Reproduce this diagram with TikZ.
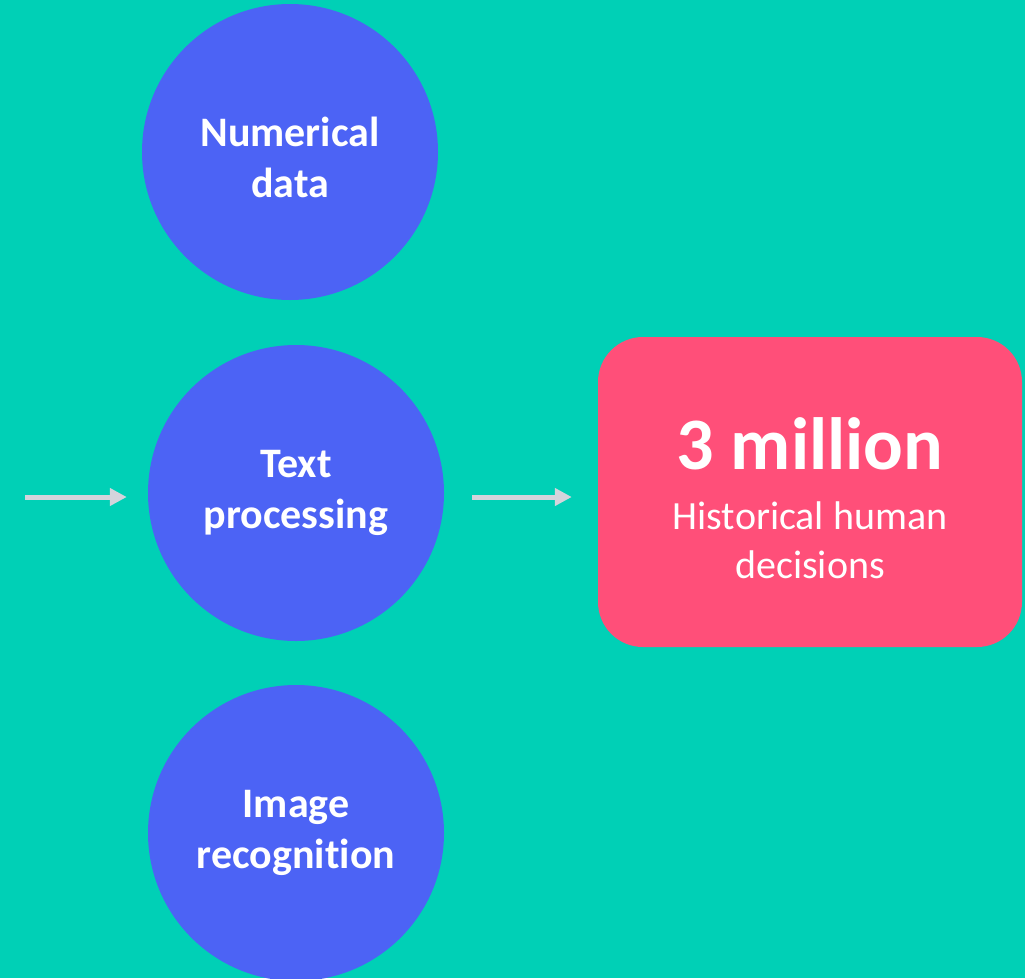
\documentclass[tikz,border=0pt]{standalone}
\usepackage{fontspec}
\setmainfont{Carlito}[Ligatures=NoCommon]
\usetikzlibrary{arrows.meta,positioning}
\definecolor{bgTeal}{HTML}{00D0B6}
\definecolor{cBlue}{HTML}{4C63F5}
\definecolor{bPink}{HTML}{FF4F79}
\definecolor{aGray}{HTML}{D4D4DC}
\tikzset{
    src/.style={circle, fill=cBlue, inner sep=0pt, minimum size=296pt, text=white,
        align=center, font=\fontsize{42}{51}\selectfont\bfseries},
    result/.style={rectangle, rounded corners=45pt, fill=bPink, inner sep=0pt,
        minimum width=424pt, minimum height=310pt, text=white, align=center,
        font=\fontsize{40}{49}\selectfont},
    flow/.style={line width=5pt, aGray, -{Triangle[length=17pt,width=17pt]}}
}
\begin{document}
\begin{tikzpicture}[x=1pt,y=-1pt]
\fill[bgTeal] (0,0) rectangle (1025,978);
\useasboundingbox (0,0) rectangle (1025,978);
\node[src] (num) at (290,152) {\rule{0pt}{40pt}Numerical\\data};
\node[src] (txt) at (296,493) {Text\\processing};
\node[src] (img) at (296,833) {Image\\recognition};
\node[result] (dec) at (810,492) {\rule{0pt}{64pt}{\fontsize{74}{74}\selectfont\bfseries 3 million}\\[11pt]
    Historical human\\decisions};
\coordinate (in) at (25,497);
\draw[flow,shorten >=21pt] (in) -- (txt.west |- in);
\draw[flow,shorten <=28pt,shorten >=26pt] (txt.east |- in) -- (dec.west |- in);
\end{tikzpicture}
\end{document}
